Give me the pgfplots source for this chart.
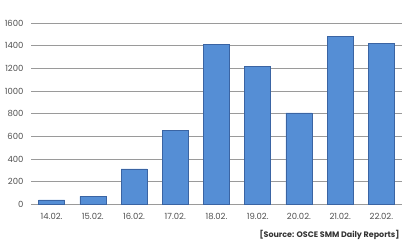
\documentclass[border=0pt]{standalone}
\usepackage{fontspec}
\setmainfont{Poppins}
\usepackage{pgfplots}
\pgfplotsset{compat=1.18}
\definecolor{barfill}{HTML}{558ED5}
\definecolor{bardraw}{HTML}{3A64A3}
\definecolor{txt}{HTML}{505050}
\definecolor{grid}{HTML}{9A9A9A}
\begin{document}
\begin{tikzpicture}[x=1bp,y=1bp]
\path[use as bounding box] (0,0) rectangle (415,249);
\begin{axis}[
  at={(31bp,44.5bp)}, anchor=south west,
  scale only axis, width=371bp, height=181.5bp,
  xmin=-0.5, xmax=8.5, ymin=0, ymax=1600,
  ytick={0,200,...,1600},
  xtick={0,...,8},
  xticklabels={14.02.,15.02.,16.02.,17.02.,18.02.,19.02.,20.02.,21.02.,22.02.},
  axis x line*=bottom,
  axis y line*=left,
  x axis line style={draw=grid, line width=0.8pt, -},
  y axis line style={draw=none},
  ymajorgrids, grid style={draw=grid, line width=0.8pt},
  major tick length=0pt,
  tick style={draw=none},
  /pgf/number format/assume math mode=true,
  /pgf/number format/1000 sep={},
  ticklabel style={font=\fontsize{8.5}{10}\selectfont, text=txt},
  yticklabel style={xshift=-4bp},
  xticklabel style={yshift=-5bp},
]
\addplot[ybar, bar width=26bp, fill=barfill, draw=bardraw, line width=0.6pt]
  coordinates {(0,40) (1,72) (2,313) (3,654) (4,1412) (5,1215) (6,807) (7,1479) (8,1421)};
\end{axis}
\node[anchor=east, font=\bfseries\fontsize{8}{9}\selectfont, text=black!80] at (403,14) {[Source: OSCE SMM Daily Reports]};
\end{tikzpicture}
\end{document}
